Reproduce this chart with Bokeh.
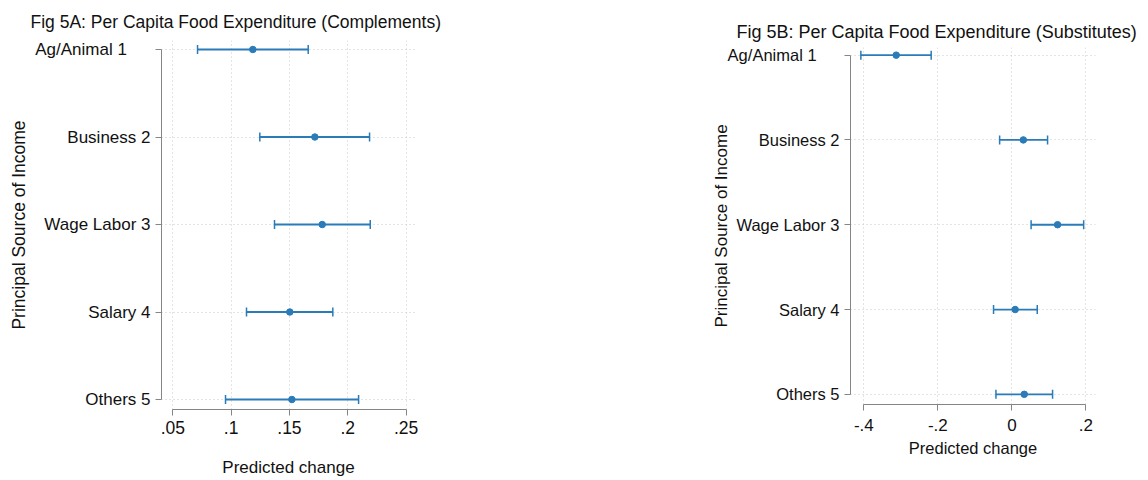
from bokeh.plotting import figure
from bokeh.layouts import row, column
from bokeh.models import (Range1d, FixedTicker, Whisker, TeeHead, ColumnDataSource,
                          Spacer)
from bokeh.embed import file_html
from bokeh.resources import INLINE

categories = ["Ag/Animal 1", "Business 2", "Wage Labor 3", "Salary 4", "Others 5"]

a_est = [0.1186, 0.1718, 0.1781, 0.1503, 0.1521]
a_lo = [0.0712, 0.1246, 0.1372, 0.1132, 0.0952]
a_hi = [0.1661, 0.2187, 0.2193, 0.1872, 0.2093]

b_est = [-0.3125, 0.031, 0.1235, 0.009, 0.0335]
b_lo = [-0.408, -0.033, 0.052, -0.0495, -0.043]
b_hi = [-0.218, 0.0965, 0.194, 0.0686, 0.110]

a_ticks = [0.05, 0.10, 0.15, 0.20, 0.25]
a_tick_labels = [".05", ".1", ".15", ".2", ".25"]
b_ticks = [-0.4, -0.2, 0.0, 0.2]
b_tick_labels = ["-.4", "-.2", "0", ".2"]

title_a = "Fig 5A: Per Capita Food Expenditure (Complements)"
title_b = "Fig 5B: Per Capita Food Expenditure (Substitutes)"
x_title = "Predicted change"
y_title = "Principal Source of Income"

FONT = "Liberation Sans"
BLUE = "#2a7bb8"
AXIS = "#858585"
GRID = "#c8c8c8"
TXT = "#111111"
PAD = "\u00a0" * 5  # the first category label sits further left in the original


def panel(title, est, lo, hi, ticks, tick_labels, xr, yr, width, height, mb,
          title_offset, title_standoff, title_size, ytick_size, xtick_size,
          xlab_size, ylab_size, xlab_standoff, ylab_standoff, xtick_standoff):
    p = figure(width=width, height=height, output_backend="svg", toolbar_location=None,
               x_range=Range1d(*xr), y_range=Range1d(*yr),
               min_border_left=mb[0], min_border_right=mb[1],
               min_border_top=mb[2], min_border_bottom=mb[3])
    p.outline_line_color = None
    p.background_fill_color = "white"
    p.border_fill_color = "white"

    p.title.text = title
    p.title.align = "left"
    p.title.offset = title_offset
    p.title.standoff = title_standoff
    p.title.text_font = FONT
    p.title.text_font_size = title_size
    p.title.text_font_style = "normal"
    p.title.text_color = TXT

    ypos = list(range(1, len(categories) + 1))
    src = ColumnDataSource(dict(y=ypos, est=est, lo=lo, hi=hi))

    xa = p.xaxis[0]
    xa.ticker = FixedTicker(ticks=ticks)
    xa.major_label_overrides = {t: l for t, l in zip(ticks, tick_labels)}
    xa.bounds = (ticks[0], ticks[-1])
    xa.axis_label = x_title
    ya = p.yaxis[0]
    ya.ticker = FixedTicker(ticks=ypos)
    ya.major_label_overrides = {y: (c + PAD if i == 0 else c) for i, (y, c) in
                                enumerate(zip(ypos, categories))}
    ya.bounds = (ypos[0], ypos[-1])
    ya.axis_label = y_title

    for ax in (xa, ya):
        ax.axis_line_color = AXIS
        ax.major_tick_line_color = AXIS
        ax.major_tick_in = 0
        ax.major_tick_out = 6
        ax.minor_tick_line_color = None
        ax.major_label_text_font = FONT
        ax.major_label_text_color = TXT
        ax.major_label_standoff = 5
        ax.axis_label_text_font = FONT
        ax.axis_label_text_font_style = "normal"
        ax.axis_label_text_color = TXT
    xa.major_label_standoff = xtick_standoff
    xa.major_label_text_font_size = xtick_size
    ya.major_label_text_font_size = ytick_size
    xa.axis_label_text_font_size = xlab_size
    ya.axis_label_text_font_size = ylab_size
    xa.axis_label_standoff = xlab_standoff
    ya.axis_label_standoff = ylab_standoff

    p.xgrid[0].ticker = FixedTicker(ticks=ticks)
    p.ygrid[0].ticker = FixedTicker(ticks=ypos)
    for g in (p.xgrid[0], p.ygrid[0]):
        g.grid_line_color = GRID
        g.grid_line_dash = "1 3"
        g.grid_line_width = 1

    w = Whisker(source=src, base="y", lower="lo", upper="hi", dimension="width",
                line_color=BLUE, line_width=1.8,
                lower_head=TeeHead(size=9, line_color=BLUE, line_width=1.5),
                upper_head=TeeHead(size=9, line_color=BLUE, line_width=1.5))
    p.add_layout(w)
    p.scatter("est", "y", source=src, size=6.5, color=BLUE)
    return p


# Panel A: frame x 161..415, y 40..409
pa = panel(title_a, a_est, a_lo, a_hi, a_ticks, a_tick_labels,
           (0.0403, 0.2581), (5.114, 0.897), 460, 480, (161, 45, 40, 71),
           -131, 18, "17.5px", "17px", "17.5px", "17px", "17.5px", 21, 3, 5)
# Panel B: frame x 850..1095, y 47..404 (figure shifted down by 7 px)
pb = panel(title_b, b_est, b_lo, b_hi, b_ticks, b_tick_labels,
           (-0.436, 0.226), (5.12, 0.91), 448, 473, (150, 53, 40, 76),
           -114, 11, "18px", "16.5px", "17px", "16.5px", "17px", 5, -6, 8)

layout = row(pa, Spacer(width=240, height=480),
             column(Spacer(width=448, height=7), pb))
open("out.html", "w").write(file_html(layout, INLINE))
